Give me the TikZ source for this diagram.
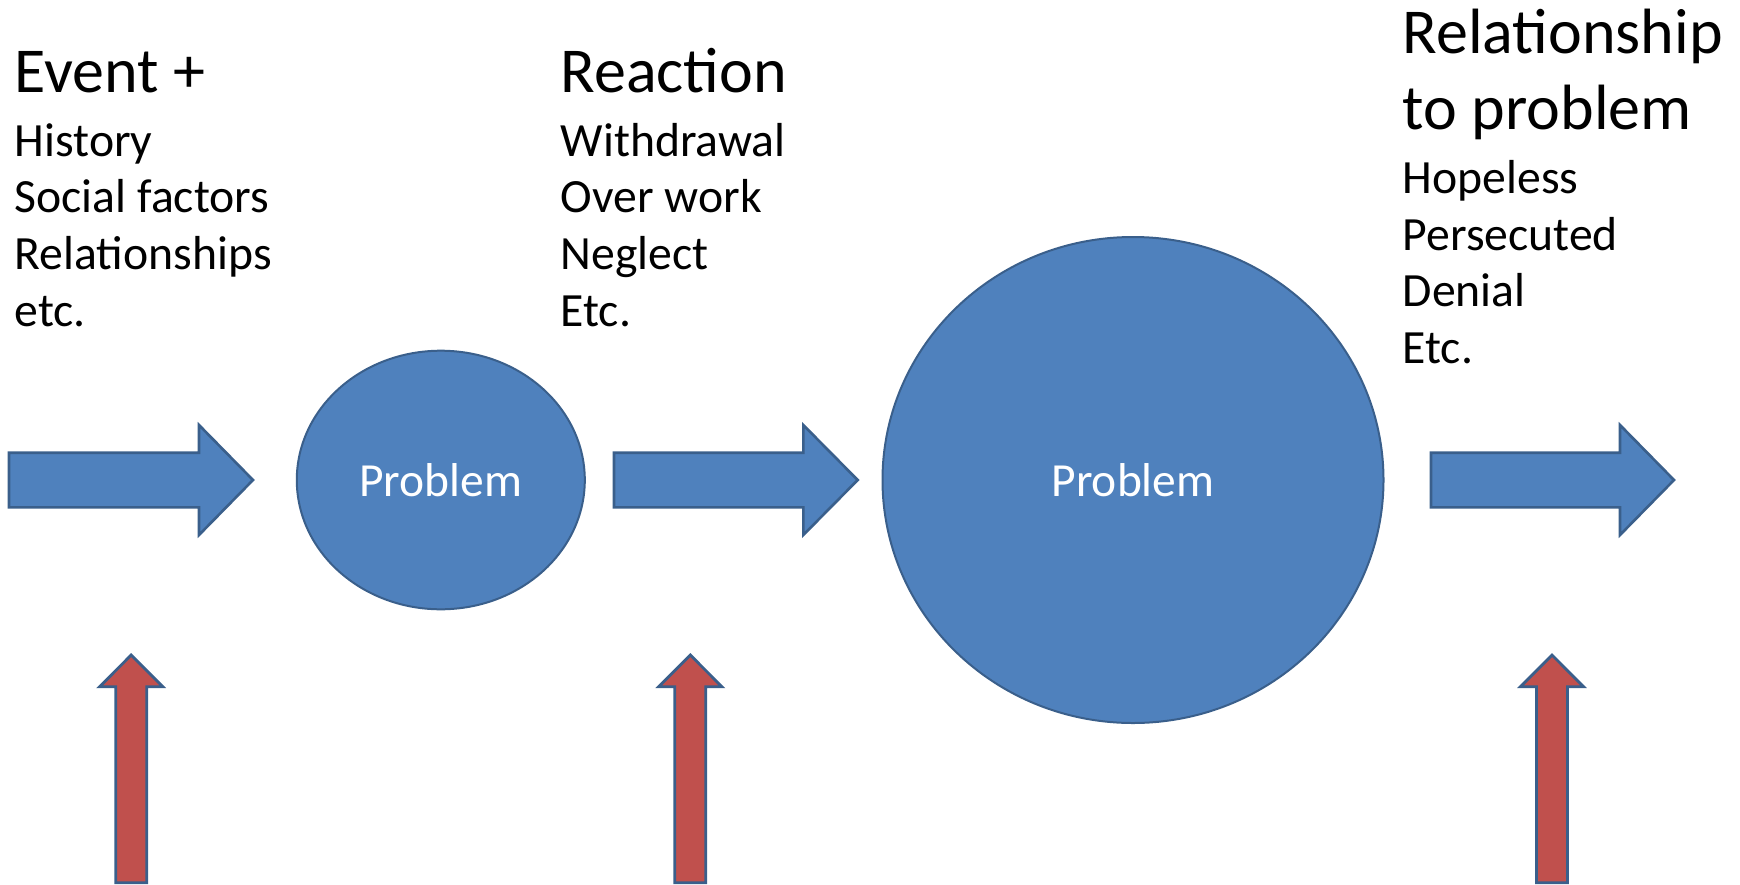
\documentclass[tikz,border=0pt]{standalone}
\usepackage{fontspec}
\setmainfont{Carlito}
\usetikzlibrary{positioning,shapes.geometric}

\definecolor{blockblue}{HTML}{4F81BD}
\definecolor{edgeblue}{HTML}{3A5F8B}
\definecolor{blockred}{HTML}{C0504D}

\tikzset{
  bluearrow/.style={fill=blockblue, draw=edgeblue, line width=2.6pt, line join=miter},
  redarrow/.style={fill=blockred, draw=edgeblue, line width=2.8pt, line join=miter},
  problemblob/.style={ellipse, fill=blockblue, draw=edgeblue, line width=2pt, inner sep=0pt,
                      text=white, font=\fontsize{47.5}{57}\selectfont},
  headtext/.style={anchor=base west, inner sep=0pt, font=\fontsize{64}{77}\selectfont},
  listtext/.style={anchor=base west, inner sep=0pt, font=\fontsize{47.7}{57}\selectfont},
}

\begin{document}
\begin{tikzpicture}[x=1pt, y=-1pt]

  %% ════ block arrows, pointing right ════
  \draw[bluearrow] (9,452.7) -- (199,452.7) -- (199,425) -- (253,480)
                   -- (199,535) -- (199,507.3) -- (9,507.3) -- cycle;
  \draw[bluearrow] (614,452.7) -- (803.3,452.7) -- (803.3,425) -- (857.7,480)
                   -- (803.3,535) -- (803.3,507.3) -- (614,507.3) -- cycle;
  \draw[bluearrow] (1431,452.7) -- (1620,452.7) -- (1620,425) -- (1674,480)
                   -- (1620,535) -- (1620,507.3) -- (1431,507.3) -- cycle;

  %% ════ block arrows, pointing up ════
  \draw[redarrow] (115.7,882.7) -- (115.7,686.7) -- (99.6,686.7) -- (131.2,655)
                  -- (162.8,686.7) -- (146.7,686.7) -- (146.7,882.7) -- cycle;
  \draw[redarrow] (674.8,882.7) -- (674.8,686.7) -- (658.7,686.7) -- (690.3,655)
                  -- (721.9,686.7) -- (705.8,686.7) -- (705.8,882.7) -- cycle;
  \draw[redarrow] (1536.5,882.7) -- (1536.5,686.7) -- (1520.4,686.7) -- (1552,655)
                  -- (1583.6,686.7) -- (1567.5,686.7) -- (1567.5,882.7) -- cycle;

  %% ════ the two problems ════
  \node[problemblob, minimum width=288pt, minimum height=258.6pt] (smallprob) at (440.8,480) {Problem};
  \node[problemblob, minimum width=501pt, minimum height=486pt] (bigprob) at (1133,480) {Problem};

  %% ════ text columns ════
  \node[headtext] (eventhead) at (14.5,92)    {Event +};
  \node[listtext] (history)   at (14.5,156)   {History};
  \node[listtext] (social)    at (14.5,212.7) {Social factors};
  \node[listtext] (relships)  at (14.5,269.3) {Relationships};
  \node[listtext] (eventetc)  at (14.5,326)   {etc.};

  \node[headtext] (reacthead) at (560.5,92)    {Reaction};
  \node[listtext] (withdraw)  at (560.5,156)   {Withdrawal};
  \node[listtext] (overwork)  at (560.5,212.7) {Over work};
  \node[listtext] (neglect)   at (560.5,269.3) {Neglect};
  \node[listtext] (reactetc)  at (560.5,326)   {Etc.};

  \node[headtext] (relhead)   at (1402.5,53.5)  {Relationship};
  \node[headtext] (relhead2)  at (1402.5,129)   {to problem};
  \node[listtext] (hopeless)  at (1402.5,193.5) {Hopeless};
  \node[listtext] (persec)    at (1402.5,250.2) {Persecuted};
  \node[listtext] (denial)    at (1402.5,306.9) {Denial};
  \node[listtext] (reletc)    at (1402.5,363.6) {Etc.};

  % fix the canvas to the reference size
  \pgfresetboundingbox
  \path[use as bounding box] (0,0) rectangle (1740,884);
\end{tikzpicture}
\end{document}
